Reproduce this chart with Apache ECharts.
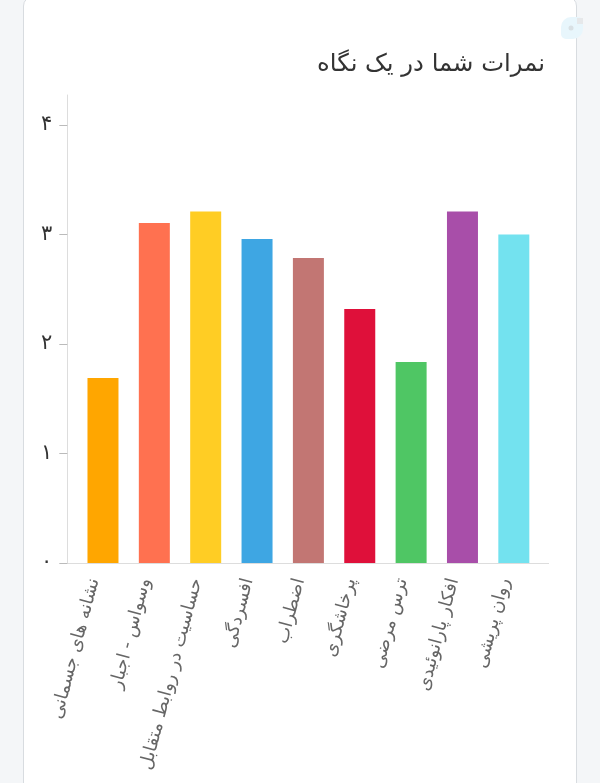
<!DOCTYPE html>
<html><head><meta charset="utf-8">
<style>
html,body{margin:0;padding:0;background:#f4f6f8;width:600px;height:783px;overflow:hidden}
#card{position:absolute;left:23px;top:-4px;width:552px;height:800px;background:#fff;border:1px solid #d8dce0;border-radius:10px}
#chart{position:absolute;left:0;top:0;width:600px;height:783px}
</style></head><body>
<div id="card"></div><div id="chart"></div>
<script src="https://cdn.jsdelivr.net/npm/echarts@6/dist/echarts.min.js"></script>
<script>
const titleText = 'نمرات شما در یک نگاه';
const categories = ['نشانه های جسمانی','وسواس - اجبار','حساسیت در روابط متقابل','افسردگی','اضطراب','پرخاشگری','ترس مرضی','افکار پارانوئیدی','روان پریشی'];
const scores = [1.69,3.105,3.21,2.96,2.785,2.32,1.835,3.21,3.0];
const barColors = ['#ffa600','#ff7150','#ffcd24','#3ea6e3','#c27673','#df103a','#4fc664','#a84ea9','#73e2ef'];
const yTicks = [0,1,2,3,4];
const persianDigits = ['۰','۱','۲','۳','۴'];
const FONT = '"DejaVu Sans"';
const chart = echarts.init(document.getElementById('chart'), null, {renderer:'canvas'});
chart.setOption({
  backgroundColor:'transparent',
  animation:false,
  title:{text:titleText,right:55,top:53,padding:0,textStyle:{fontFamily:FONT,fontSize:24.3,fontWeight:'normal',color:'#333'}},
  grid:{left:77.3,right:60.5,top:95,bottom:220,containLabel:false},
  xAxis:{type:'category',data:categories,
    axisLine:{show:false},axisTick:{show:false},
    axisLabel:{rotate:75,interval:0,margin:18,fontFamily:FONT,fontSize:18,color:'#666',verticalAlign:'bottom'}},
  yAxis:{type:'value',min:0,max:4.274,offset:10,splitLine:{show:false},
    axisLine:{show:true,lineStyle:{color:'#ddd',width:1}},
    axisTick:{show:true,length:8,customValues:yTicks,lineStyle:{color:'#bbb',width:1}},
    axisLabel:{margin:15,customValues:yTicks,fontFamily:FONT,fontSize:21,color:'#333',
      formatter:v=>persianDigits[v]}},
  series:[{type:'bar',barWidth:31,
    data:scores.map((v,i)=>({value:v,itemStyle:{color:barColors[i]}}))}],
  graphic:[
    {type:'line',silent:true,shape:{x1:67,y1:563.5,x2:549,y2:563.5},style:{stroke:'#ddd',lineWidth:1}},
    {type:'rect',silent:true,shape:{x:561,y:17,width:22,height:22,r:[10,5,10,5]},style:{fill:'#e8f6fc'}},
    {type:'rect',silent:true,shape:{x:577,y:18,width:6,height:6},style:{fill:'#e6e8ea'}},
    {type:'circle',silent:true,shape:{cx:571,cy:28,r:2.5},style:{fill:'#d8e0e4'}}
  ]
});
</script></body></html>
